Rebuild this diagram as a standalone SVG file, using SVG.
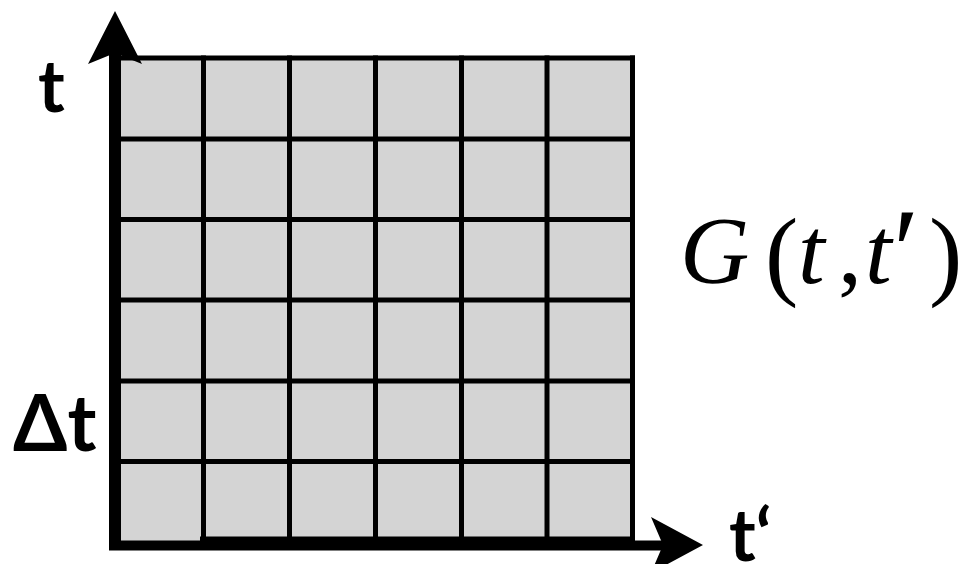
<svg xmlns="http://www.w3.org/2000/svg" width="962" height="564" viewBox="0 0 962 564">
<style>
.grid line{stroke:#000;stroke-width:5}
.axis{stroke:#000;fill:none}
.sans{font-family:Lato,"Open Sans","DejaVu Sans",sans-serif;font-weight:700;fill:#000}
.math{font-family:"Liberation Serif","DejaVu Serif",serif;fill:#000}
.it{font-style:italic}
</style>
<rect width="962" height="564" fill="#fff"/>
<g id="grid" class="grid">
<rect x="117" y="58" width="515.5" height="483" fill="#d4d4d4"/>
<line x1="203.5" y1="55.5" x2="203.5" y2="541"/>
<line x1="289.5" y1="55.5" x2="289.5" y2="541"/>
<line x1="375.5" y1="55.5" x2="375.5" y2="541"/>
<line x1="461.5" y1="55.5" x2="461.5" y2="541"/>
<line x1="547" y1="55.5" x2="547" y2="541"/>
<line x1="632.5" y1="55.5" x2="632.5" y2="541"/>
<line x1="115" y1="58" x2="635" y2="58"/>
<line x1="115" y1="139" x2="635" y2="139"/>
<line x1="115" y1="219.5" x2="635" y2="219.5"/>
<line x1="115" y1="300" x2="635" y2="300"/>
<line x1="115" y1="381" x2="635" y2="381"/>
<line x1="115" y1="461.5" x2="635" y2="461.5"/>
<line x1="200" y1="539" x2="635" y2="539"/>
</g>
<g id="connectors">
<g id="axis-t">
<line class="axis" x1="115" y1="550" x2="115" y2="52" stroke-width="12"/>
<polygon points="115,11 142,64 115,53 88,64" fill="#000"/>
</g>
<g id="axis-tprime">
<line class="axis" x1="109" y1="545.5" x2="665" y2="545.5" stroke-width="10"/>
<polygon points="703,545 651,517 663,545 651,573" fill="#000"/>
</g>
</g>
<g id="label-t"><text class="sans" x="38" y="112" font-size="72">t</text></g>
<g id="label-dt"><text class="sans" x="13" y="451" font-size="78">Δt</text></g>
<g id="label-tprime"><text class="sans" x="729" y="561" font-size="72">t‘</text></g>
<g id="label-G"><text class="math" font-size="96"><tspan class="it" x="680" y="283">G</tspan><tspan x="765" y="287" font-size="100">(</tspan><tspan class="it" x="798" y="283">t</tspan><tspan x="838" y="283">,</tspan><tspan class="it" x="865" y="283">t</tspan><tspan x="893" y="292" font-size="120">′</tspan><tspan x="929" y="287" font-size="100">)</tspan></text></g>
</svg>
